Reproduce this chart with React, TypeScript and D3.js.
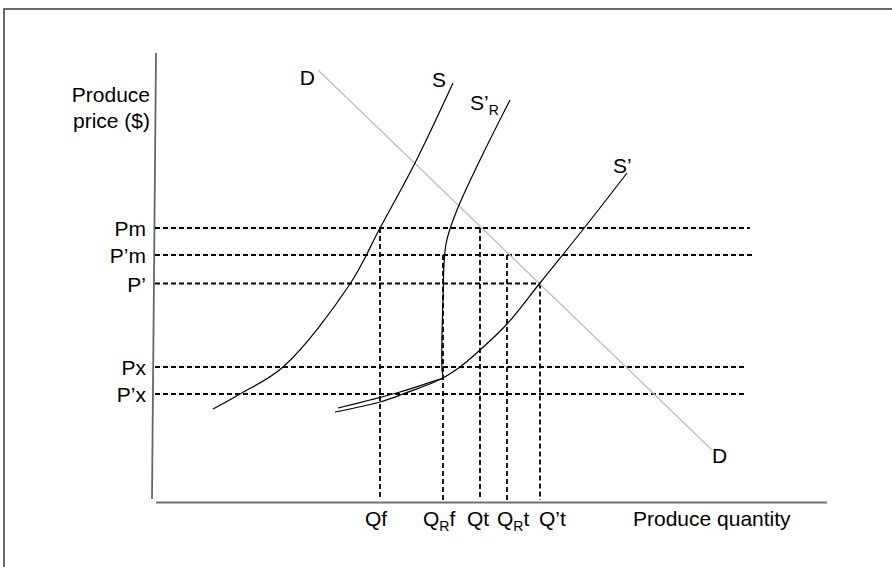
import React from "react";
import * as d3 from "d3";

// ---- data (abstract units: quantity 0..672, price 0..449) ----
const priceLabels = ["Pm", "P’m", "P’", "Px", "P’x"];
const priceValues = [274, 247, 218.5, 135, 108];
const priceLineEnds = [595, 598, 385, 592, 592];

const qtyMain = ["Q", "Q", "Q", "Q", "Q’"];
const qtySub = ["", "R", "", "R", ""];
const qtyRest = ["f", "f", "t", "t", "t"];
const qtyValues = [225, 288, 325, 352, 385];
const qtyTops = [274, 247, 274, 247, 218.5];
const qtyLabelShift = [-15, -20, -13, -10, -1];

const demandQ = [163, 557];
const demandP = [432, 52];

const supplyQ = [58, 85, 128, 195, 225, 260, 298];
const supplyP = [93, 108, 135, 218, 274, 339, 419];

const supplyRQ = [183, 215, 245, 282, 288, 287, 288, 291, 302, 325, 355];
const supplyRP = [94, 102, 110, 122, 124, 132, 202, 258, 292, 342, 402];

const supply2Q = [180, 225, 248, 286, 305, 325, 352, 385, 430, 472];
const supply2P = [90, 100, 108, 123, 135, 152, 178, 219, 275, 329];

const W = 892;
const H = 567;
const FONT = "'Liberation Sans', Arial, sans-serif";

export default function App() {
  const x = d3.scaleLinear().domain([0, 672]).range([155, 827]);
  const y = d3.scaleLinear().domain([0, 449]).range([502, 53]);

  const line = d3
    .line<[number, number]>()
    .x((d) => x(d[0]))
    .y((d) => y(d[1]))
    .curve(d3.curveCatmullRom.alpha(0.5));

  const zip = (a: number[], b: number[]) => a.map((v, i) => [v, b[i]] as [number, number]);

  const dash = "5,3";

  return (
    <div style={{ position: "absolute", left: 0, top: 0 }}>
      <svg width={W} height={H} style={{ display: "block", background: "#fff" }}>
        {/* frame */}
        <rect x={4} y={9} width={1000} height={1000} fill="none" stroke="#444" strokeWidth={1.6} />

        {/* axes */}
        <line x1={x(1)} y1={y(449)} x2={x(-3)} y2={y(3)} stroke="#666" strokeWidth={1.8} />
        <line x1={x(1)} y1={y(0) + 0.5} x2={x(672)} y2={y(0) + 0.5} stroke="#707070" strokeWidth={2} />

        {/* horizontal dashed price lines */}
        {priceValues.map((p, i) => (
          <line
            key={"h" + i}
            x1={x(0)}
            x2={x(priceLineEnds[i])}
            y1={y(p)}
            y2={y(p)}
            stroke="#000"
            strokeWidth={1.8}
            strokeDasharray={dash}
          />
        ))}

        {/* vertical dashed quantity lines */}
        {qtyValues.map((q, i) => (
          <line
            key={"v" + i}
            x1={x(q)}
            x2={x(q)}
            y1={y(qtyTops[i])}
            y2={y(2)}
            stroke="#000"
            strokeWidth={1.8}
            strokeDasharray={dash}
          />
        ))}

        {/* demand */}
        <path d={line(zip(demandQ, demandP)) || ""} fill="none" stroke="#bdbdbd" strokeWidth={1.3} />

        {/* supply curves */}
        <path d={line(zip(supplyQ, supplyP)) || ""} fill="none" stroke="#000" strokeWidth={1.2} />
        <path d={line(zip(supplyRQ, supplyRP)) || ""} fill="none" stroke="#000" strokeWidth={1.2} />
        <path d={line(zip(supply2Q, supply2P)) || ""} fill="none" stroke="#000" strokeWidth={1.2} />

        <g fontFamily={FONT} fontSize={21} fill="#000">
          {/* axis titles */}
          <text x={150} y={102} textAnchor="end">Produce</text>
          <text x={150} y={128} textAnchor="end">price ($)</text>
          <text x={633} y={526}>Produce quantity</text>

          {/* price tick labels */}
          {priceValues.map((p, i) => (
            <text key={"pl" + i} x={x(-9)} y={y(p) + 8} textAnchor="end">
              {priceLabels[i]}
            </text>
          ))}

          {/* quantity tick labels */}
          {qtyValues.map((q, i) => (
            <text key={"ql" + i} x={x(q) + qtyLabelShift[i]} y={526}>
              {qtyMain[i]}
              {qtySub[i] ? (
                <tspan fontSize={14} dy={5}>
                  {qtySub[i]}
                </tspan>
              ) : null}
              {qtySub[i] ? <tspan dy={-5}>{qtyRest[i]}</tspan> : qtyRest[i]}
            </text>
          ))}

          {/* curve labels */}
          <text x={x(demandQ[0]) - 3} y={y(demandP[0]) + 15} textAnchor="end">D</text>
          <text x={x(demandQ[1])} y={y(demandP[1]) + 13}>D</text>
          <text x={x(supplyQ[supplyQ.length - 1]) - 21} y={y(supplyP[supplyP.length - 1]) + 4}>S</text>
          <text x={x(supplyRQ[supplyRQ.length - 1]) - 40} y={y(supplyRP[supplyRP.length - 1]) + 10}>
            S’
            <tspan fontSize={14} dy={5}>R</tspan>
          </text>
          <text x={x(supply2Q[supply2Q.length - 1]) - 14} y={y(supply2P[supply2P.length - 1])}>S’</text>
        </g>
      </svg>
    </div>
  );
}
